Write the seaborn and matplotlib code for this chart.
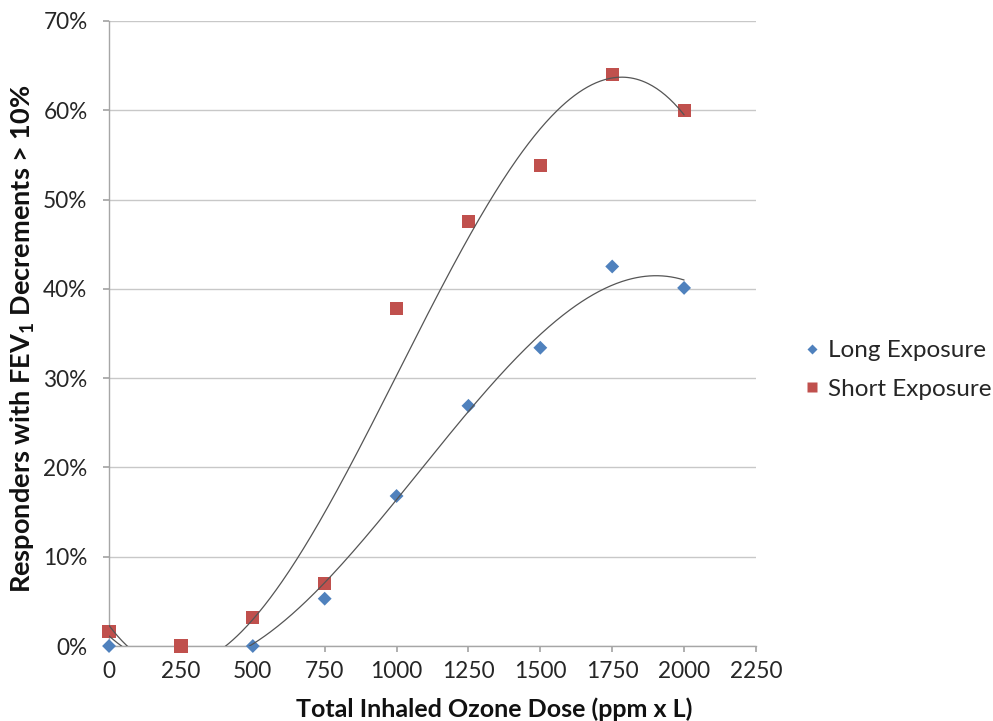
import numpy as np
import pandas as pd
import matplotlib
matplotlib.use("Agg")
import matplotlib.pyplot as plt
import seaborn as sns
from matplotlib.ticker import PercentFormatter

dose = [0, 250, 500, 750, 1000, 1250, 1500, 1750, 2000]
long_exposure = [0.0, 0.0, 0.0, 5.3, 16.8, 26.9, 33.4, 42.5, 40.1]
short_exposure = [1.6, 0.0, 3.2, 7.0, 37.8, 47.5, 53.8, 64.0, 60.0]
series_names = ["Long Exposure", "Short Exposure"]
x_ticks = [0, 250, 500, 750, 1000, 1250, 1500, 1750, 2000, 2250]
y_ticks = [0, 10, 20, 30, 40, 50, 60, 70]

sns.set_theme(style="white")
plt.rcParams['font.family'] = ['Lato', 'DejaVu Sans']
plt.rcParams['mathtext.fontset'] = 'custom'
plt.rcParams['mathtext.bf'] = 'Lato:bold'
plt.rcParams['mathtext.rm'] = 'Lato'

df = pd.DataFrame({
    "dose": dose * 2,
    "value": long_exposure + short_exposure,
    "series": [series_names[0]] * len(dose) + [series_names[1]] * len(dose),
})

fig = plt.figure(figsize=(9.93, 7.21), dpi=100)
ax = fig.add_axes([0.1098, 0.104, 0.6515, 0.867])

# polynomial (order 3) trendlines, Excel-like
xs = np.linspace(0, 2000, 400)
for vals in (long_exposure, short_exposure):
    coef = np.polyfit(dose, vals, 3)
    ax.plot(xs, np.polyval(coef, xs), color="#555555", lw=0.9, zorder=4)

sns.scatterplot(data=df, x="dose", y="value", hue="series", style="series",
                markers={"Long Exposure": "D", "Short Exposure": "s"},
                palette={"Long Exposure": "#4F81BD", "Short Exposure": "#C0504D"},
                size="series", sizes={"Long Exposure": 50, "Short Exposure": 90},
                edgecolor="none", ax=ax, zorder=3, legend=True, clip_on=False)

ax.set_xlim(0, 2250)
ax.set_ylim(0, 70)
ax.set_xticks(x_ticks)
ax.set_yticks(y_ticks)
ax.yaxis.set_major_formatter(PercentFormatter(decimals=0))
ax.grid(axis="y", color="#C8C8C8", lw=1.0)
ax.grid(axis="x", visible=False)
for s in ["top", "right"]:
    ax.spines[s].set_visible(False)
for s in ["left", "bottom"]:
    ax.spines[s].set_color("#A6A6A6")
    ax.spines[s].set_linewidth(1.0)
ax.tick_params(axis="both", which="major", length=4, color="#A6A6A6",
               labelsize=16.3, labelcolor="#262626", direction="out",
               bottom=True, left=True)
ax.tick_params(axis="y", pad=11.5)
ax.tick_params(axis="x", pad=7)
ax.set_xlabel("Total Inhaled Ozone Dose (ppm x L)", fontsize=18, fontweight="bold",
              color="#111111")
ax.set_ylabel("Responders with FEV$_\\mathbf{1}$ Decrements > 10%", fontsize=19.5,
              fontweight="bold", color="#111111")
ax.xaxis.set_label_coords(0.595, -0.0816)
ax.yaxis.set_label_coords(-0.111, 0.492)

leg = ax.legend(loc="center left", bbox_to_anchor=(0.7996, 0.4868),
                bbox_transform=fig.transFigure, frameon=False,
                fontsize=17.5, handlelength=0.7, handletextpad=0.3, borderpad=0.4,
                labelspacing=0.72, markerscale=0.75, borderaxespad=0)

fig.savefig("out.png", dpi=100)
